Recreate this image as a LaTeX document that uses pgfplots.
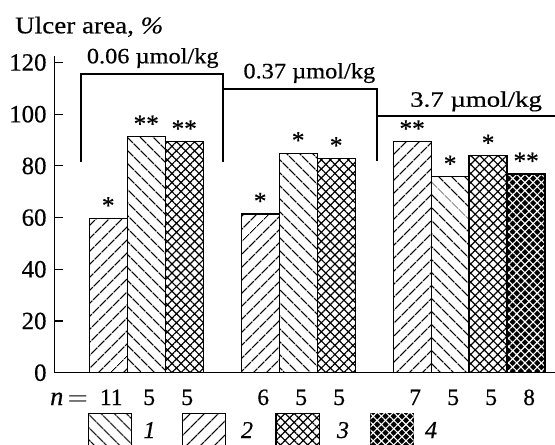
\documentclass[border=0pt]{standalone}
\usepackage{fontspec}
\setmainfont{Liberation Serif}[UprightFeatures={FakeBold=0.45}, ItalicFeatures={FakeBold=0.45}]
\usepackage{graphicx}
\usepackage{pgfplots}
\pgfplotsset{compat=1.18}
\usetikzlibrary{patterns.meta}

\tikzset{
 pA/.style={pattern={Lines[angle=45,distance=9.5bp,line width=1.35bp]}},
 pB/.style={pattern={Lines[angle=-45,distance=9.5bp,line width=1.35bp]}},
 pC/.style={pattern={Hatch[angle=45,distance=6.4bp,line width=1.2bp]}},
 pD/.style={fill=black, postaction={pattern={Hatch[angle=45,distance=5.8bp,line width=1.1bp]}, pattern color=white}},
}
\newcommand{\NL}[1]{\resizebox{!}{15.5bp}{#1}}
\newcommand{\LG}[1]{\resizebox{!}{16bp}{\textit{#1}}}

\begin{document}
\begin{tikzpicture}
\useasboundingbox (0,0) rectangle (555bp,-445bp);
\node[anchor=base west, inner sep=0pt] at (15bp,-33.3bp) {\resizebox{148bp}{16.6bp}{Ulcer area, \textit{\%}}};
\begin{axis}[
 at={(54.3bp,-372.7bp)}, anchor=south west,
 scale only axis, width=500.7bp, height=317.2bp,
 xmin=-1.42, xmax=11.76, ymin=0, ymax=122.7,
 axis lines=left, axis line style={-, line width=1.4bp},
 clip=false,
 ytick={0,20,...,120}, tick align=inside, major tick length=9bp,
 tick style={line width=1.2bp, black},
 /pgf/number format/assume math mode=true,
 yticklabel={\resizebox{!}{16.5bp}{\pgfmathprintnumber{\tick}}},
 yticklabel style={inner sep=0pt, xshift=-7.6bp},
 xtick={0,1,2,4,5,6,8,9,10,11},
 xticklabels={\NL{11},\NL{5},\NL{5},\NL{6},\NL{5},\NL{5},\NL{7},\NL{5},\NL{5},\NL{8}},
 x tick style={draw=none},
 xticklabel style={anchor=base, inner sep=0pt, yshift=-32.3bp, xshift=3bp},
 bar width=1,
 every axis plot/.append style={ybar, bar shift=0pt, draw=black, line width=1.3bp},
 point meta=explicit symbolic,
 nodes near coords={\resizebox{!}{16.5bp}{\pgfplotspointmeta}},
 nodes near coords style={anchor=south, inner sep=0pt, yshift=4bp},
]
\addplot[pA] coordinates {(0,59.7)[*] (4,61.4)[*] (8,89.4)[**]};
\addplot[pB] coordinates {(1,91.3)[**] (5,84.9)[*] (9,75.8)[*]};
\addplot[pC] coordinates {(2,89.4)[**] (6,82.9)[*] (10,83.9)[*]};
\addplot[pD] coordinates {(11,76.9)[**]};
\draw[line width=2bp, line join=miter] (axis cs:-0.72,81.6) |- (axis cs:3.03,115.6) -- (axis cs:3.03,81.6);
\draw[line width=2bp, line join=miter] (axis cs:3.03,109.7) -| (axis cs:7.08,81.9);
\draw[line width=2bp] (axis cs:7.08,99.4) -- (axis cs:11.76,99.4);
\end{axis}
\node[anchor=base west, inner sep=0pt] at (86.7bp,-63.3bp) {\resizebox{131.7bp}{15.2bp}{0.06 µmol/kg}};
\node[anchor=base west, inner sep=0pt] at (243.3bp,-78.3bp) {\resizebox{131.7bp}{15.2bp}{0.37 µmol/kg}};
\node[anchor=base west, inner sep=0pt] at (410bp,-106.7bp) {\resizebox{131.7bp}{15.2bp}{3.7 µmol/kg}};
\node[anchor=base west, inner sep=0pt] at (50bp,-405bp) {\resizebox{38bp}{!}{\textit{n}\,$=$}};
\draw[line width=1.3bp, pB] (88.5bp,-413.3bp) rectangle (131.7bp,-460bp);
\draw[line width=1.3bp, pA] (182.3bp,-413.3bp) rectangle (225.5bp,-460bp);
\draw[line width=1.3bp, pC] (276bp,-413.3bp) rectangle (319.3bp,-460bp);
\draw[line width=1.3bp, pD] (370.6bp,-413.3bp) rectangle (413.5bp,-460bp);
\node[anchor=base, inner sep=0pt] at (149.5bp,-438bp) {\LG{1}};
\node[anchor=base, inner sep=0pt] at (247bp,-438bp) {\LG{2}};
\node[anchor=base, inner sep=0pt] at (343bp,-438bp) {\LG{3}};
\node[anchor=base, inner sep=0pt] at (431bp,-438bp) {\LG{4}};
\end{tikzpicture}
\end{document}
